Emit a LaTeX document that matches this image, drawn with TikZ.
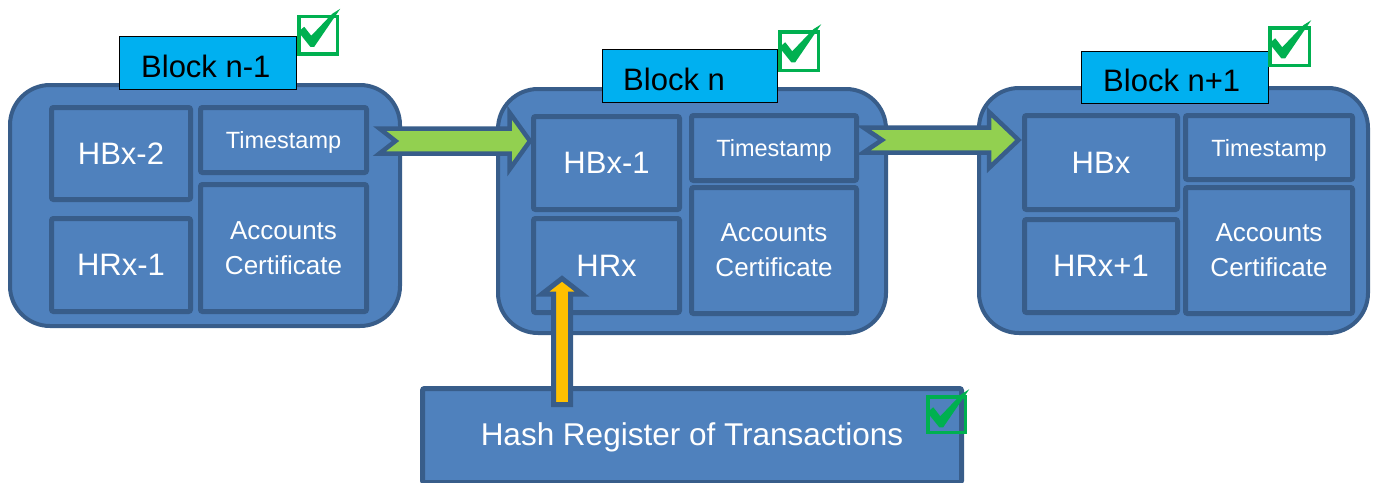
\documentclass[tikz,border=0pt]{standalone}
\usepackage{fontspec}
\setmainfont{Liberation Sans}
\usetikzlibrary{calc}
\definecolor{blkfill}{HTML}{4F81BD}
\definecolor{blkline}{HTML}{385D8A}
\definecolor{lblfill}{HTML}{00B0F0}
\definecolor{chkgreen}{HTML}{00B050}
\definecolor{arrgreen}{HTML}{92D050}
\definecolor{arryellow}{HTML}{FFC000}
\begin{document}
\begin{tikzpicture}[x=1pt,y=-1pt,
  outerblk/.style={draw=blkline, fill=blkfill, line width=4pt, rounded corners=40pt, inner sep=0pt},
  cell/.style={draw=blkline, fill=blkfill, line width=5pt, rounded corners=2pt, inner sep=0pt,
               text=white, text depth=0pt, align=center},
  bigtxt/.style={font=\fontsize{31}{34}\selectfont},
  tstxt/.style={font=\fontsize{23.5}{28}\selectfont},
  actxt/.style={font=\fontsize{26}{35}\selectfont},
  lblbox/.style={draw=black, fill=lblfill, line width=1.3pt, inner sep=0pt},
  lbltxt/.style={font=\fontsize{31}{34}\selectfont, text=black, anchor=base west, inner sep=0pt},
  chkbox/.style={draw=chkgreen, line width=3.5pt, inner sep=0pt, minimum width=38.5pt, minimum height=37.5pt},
  tickmark/.style={fill=chkgreen},
  garrow/.style={draw=blkline, fill=arrgreen, line width=4.5pt, miter limit=10},
  yarrow/.style={draw=blkline, fill=arryellow, line width=5pt, miter limit=10}
]
\useasboundingbox (0,0) rectangle (1375,482);

% ---------- Block n-1 ----------
\node[outerblk, minimum width=390pt, minimum height=241pt] (b1) at (205,205.5) {};
\node[cell, bigtxt, minimum width=139pt, minimum height=92pt] (hb1) at (121,153.5) {HBx-2};
\node[cell, tstxt, minimum width=166pt, minimum height=65pt] (ts1) at (283.5,140) {Timestamp};
\node[cell, bigtxt, minimum width=139pt, minimum height=93pt] (hr1) at (121,265) {HRx-1};
\node[cell, actxt, minimum width=166pt, minimum height=127pt] (ac1) at (283.5,248) {Accounts\\Certificate};
\node[lblbox, minimum width=176.5pt, minimum height=52.5pt] (lb1) at (208,63) {};
\node[lbltxt] (lt1) at (141,77) {Block n-1};
\node[chkbox] (c1) at (318,35) {};

% ---------- Block n ----------
\node[outerblk, minimum width=388pt, minimum height=244pt] (b2) at (692,211) {};
\node[cell, bigtxt, minimum width=146pt, minimum height=93pt] (hb2) at (606.5,163) {HBx-1};
\node[cell, tstxt, minimum width=165pt, minimum height=65pt] (ts2) at (774,148) {Timestamp};
\node[cell, bigtxt, minimum width=146pt, minimum height=94pt] (hr2) at (606.5,265.5) {HRx};
\node[cell, actxt, minimum width=165pt, minimum height=126pt] (ac2) at (774,250.5) {Accounts\\Certificate};
\node[lblbox, minimum width=174.5pt, minimum height=52.5pt] (lb2) at (690,76) {};
\node[lbltxt] (lt2) at (623,90) {Block n};
\node[chkbox, minimum width=38.5pt, minimum height=38.5pt] (c2) at (799,51) {};

% ---------- Block n+1 ----------
\node[outerblk, minimum width=389pt, minimum height=245pt] (b3) at (1173.5,210.5) {};
\node[cell, bigtxt, minimum width=153pt, minimum height=94pt] (hb3) at (1101,162.5) {HBx};
\node[cell, tstxt, minimum width=167pt, minimum height=64pt] (ts3) at (1269,147.5) {Timestamp};
\node[cell, bigtxt, minimum width=153pt, minimum height=93pt] (hr3) at (1101,266) {HRx+1};
\node[cell, actxt, minimum width=167pt, minimum height=126pt] (ac3) at (1269,250.5) {Accounts\\Certificate};
\node[lblbox, minimum width=186.5pt, minimum height=51.5pt] (lb3) at (1175,77.5) {};
\node[lbltxt] (lt3) at (1103,91) {Block n+1};
\node[chkbox, minimum width=39.5pt, minimum height=37.5pt] (c3) at (1289.5,46.5) {};

% ---------- Hash register ----------
\node[cell, font=\fontsize{31.5}{34}\selectfont, minimum width=539pt, minimum height=94pt] (hrt) at (692,435.5) {\raisebox{2pt}{Hash Register of Transactions}};
\node[chkbox, minimum width=37.5pt, minimum height=35.5pt] (c4) at (946.5,414.5) {};

% ---------- tick marks ----------
\foreach \c in {c1,c2,c3,c4}{
  \fill[tickmark, shift={($(\c.north west)+(-1.75,-1.75)$)}]
    (3,19) -- (9,14) -- (16,23) -- (37,1) -- (45,-4) -- (19,34) -- (15,34) -- cycle;
}

% ---------- green arrows ----------
\coordinate (g1) at (377,141);
\coordinate (g2) at (861,140);
\draw[garrow, shift={(g1)}] (2.5,-12.5) -- (132.5,-12.5) -- (132.5,-28.5) -- (153,0) -- (132.5,28.5) -- (132.5,12.5) -- (2.5,12.5) -- (18.5,0) -- cycle;
\draw[garrow, shift={(g2)}] (2.5,-12.5) -- (128,-12.5) -- (128,-28) -- (157.5,0) -- (128,28) -- (128,12.5) -- (2.5,12.5) -- (21,0) -- cycle;

% ---------- yellow arrow ----------
\coordinate (y1) at (562,407);
\draw[yarrow, shift={(y1)}] (-8.5,-2.5) -- (-8.5,-113) -- (-20,-113) -- (0,-128.5) -- (20,-113) -- (8.5,-113) -- (8.5,-2.5) -- cycle;
\end{tikzpicture}
\end{document}
